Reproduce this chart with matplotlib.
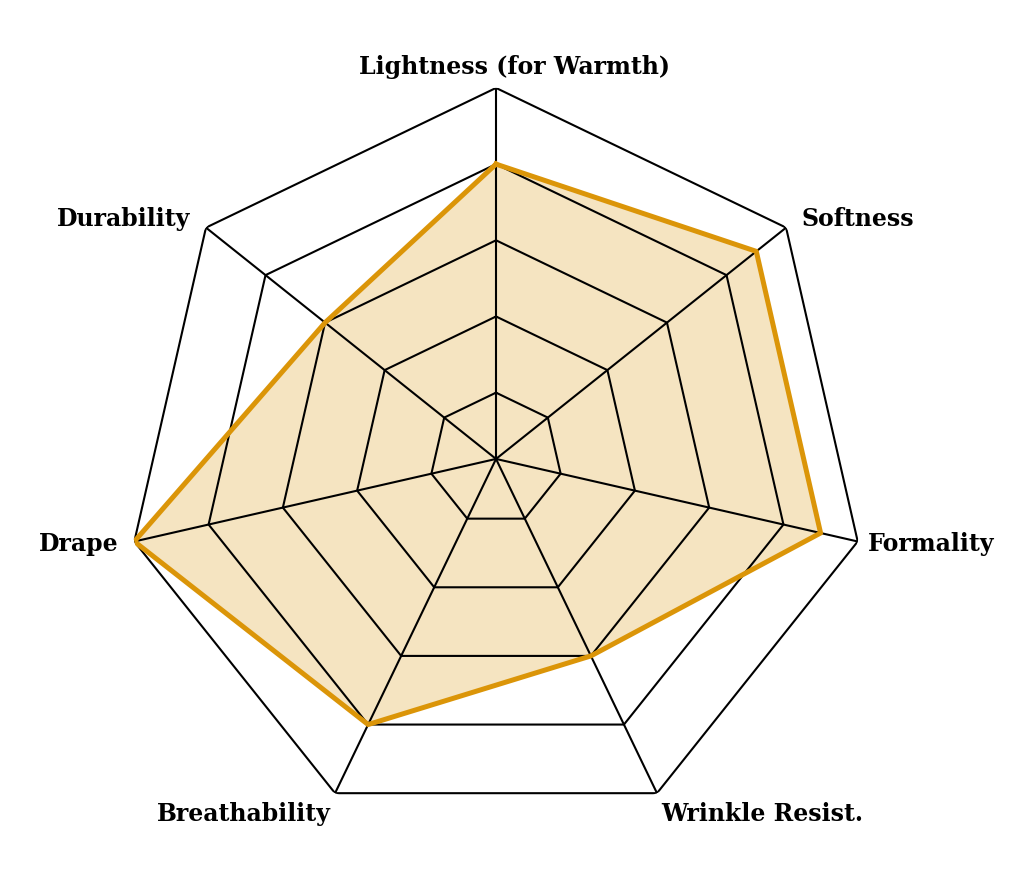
import numpy as np
import matplotlib
matplotlib.use("Agg")
import matplotlib.pyplot as plt
from matplotlib import transforms

# fabric properties, clockwise from the top
categories = ["Lightness (for Warmth)", "Softness", "Formality", "Wrinkle Resist.",
              "Breathability", "Drape", "Durability"]
scores = [4, 4.5, 4.5, 3, 4, 5, 3]
ring_levels = [1, 2, 3, 4, 5]

# label nudges in pixels from the outer vertex (right, up)
label_nudge = [(18, 21), (15, 9), (10, -3), (4, -21), (-4, -21), (-16, -3), (-16, 9)]

LINE = "#DB9508"

plt.rcParams['font.family'] = ['DejaVu Serif']

n = len(categories)
angles = np.linspace(0, 2 * np.pi, n, endpoint=False)
closed = np.concatenate([angles, angles[:1]])

fig = plt.figure(figsize=(10.35, 8.72), dpi=100)
ax = fig.add_axes([0.1208, 0.0482, 0.7169, 0.851], projection='polar')
ax.set_theta_offset(np.pi / 2)
ax.set_theta_direction(-1)
ax.set_ylim(0.13, 5)

ax.grid(False)
ax.spines['polar'].set_visible(False)
ax.set_xticks([])
ax.set_yticks([])

# polygon rings and spokes
for lvl in ring_levels:
    ax.plot(closed, [lvl] * (n + 1), color='black', lw=1.5, zorder=3)
for a in angles:
    ax.plot([a, a], [0.13, 5], color='black', lw=1.5, zorder=3)

vals = scores + scores[:1]
ax.fill(closed, vals, color=LINE, alpha=0.25, lw=0, zorder=2)
ax.plot(closed, vals, color=LINE, lw=3.6, zorder=4)

# axis labels outside the outer ring
for a, label, (dx, dy) in zip(angles, categories, label_nudge):
    s = np.sin(a)
    if abs(s) < 1e-6:
        ha = 'center'
    elif s > 0:
        ha = 'left'
    else:
        ha = 'right'
    trans = ax.transData + transforms.ScaledTranslation(dx / 100, dy / 100, fig.dpi_scale_trans)
    ax.text(a, 5, label, transform=trans, ha=ha, va='center',
            fontsize=17, fontweight='bold', color='black')

fig.savefig("out.png", dpi=100)
